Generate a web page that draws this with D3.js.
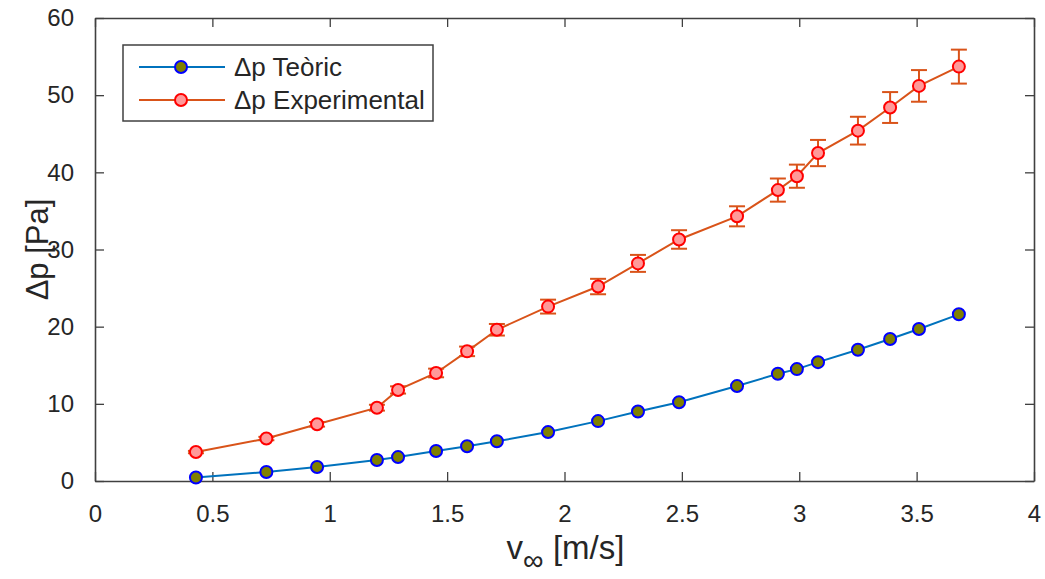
<!DOCTYPE html>
<html>
<head>
<meta charset="utf-8">
<script src="https://cdn.jsdelivr.net/npm/d3@7"></script>
<style>
  body { margin: 0; background: #fff; }
  text { font-family: "Liberation Sans", Arial, sans-serif; fill: #262626; }
</style>
</head>
<body>
<svg id="chart" width="1045" height="579"></svg>
<script>
// wind speed [m/s]
var velocity = [0.43, 0.73, 0.946, 1.201, 1.291, 1.453, 1.585, 1.712, 1.93, 2.143,
                2.313, 2.488, 2.735, 2.909, 2.99, 3.08, 3.25, 3.387, 3.51, 3.68];
// pressure drop [Pa]
var dpTeoric = [0.45, 1.16, 1.81, 2.72, 3.1, 3.88, 4.5, 5.15, 6.34, 7.76,
                9.0, 10.2, 12.3, 13.9, 14.5, 15.4, 17.0, 18.4, 19.7, 21.6];
var dpExperimental = [3.75, 5.5, 7.35, 9.5, 11.8, 14.0, 16.8, 19.6, 22.6, 25.2,
                      28.2, 31.3, 34.3, 37.7, 39.5, 42.5, 45.4, 48.4, 51.2, 53.7];
var dpError = [0.15, 0.22, 0.3, 0.38, 0.47, 0.56, 0.62, 0.75, 0.9, 1.0,
               1.1, 1.2, 1.3, 1.5, 1.5, 1.7, 1.8, 2.0, 2.05, 2.2];
var xTicks = [0, 0.5, 1, 1.5, 2, 2.5, 3, 3.5, 4];
var yTicks = [0, 10, 20, 30, 40, 50, 60];
var legendLabels = ["\u0394p Te\u00f2ric", "\u0394p Experimental"];

var svg = d3.select("#chart"),
    box = {left: 95, right: 1034, top: 18, bottom: 481},
    cs = {
        teo: {line: "#0072BD", fill: "#808000", stroke: "#0000FF"},
        exp: {line: "#D95319", fill: "#FF9999", stroke: "#FF0000"},
        axis: "#404040"
    };

var x = d3.scaleLinear().domain([0, 4]).range([box.left, box.right]);
var y = d3.scaleLinear().domain([0, 60]).range([box.bottom, box.top]);

var teoData = velocity.map((v, i) => ({v: v, p: dpTeoric[i]}));
var expData = velocity.map((v, i) => ({v: v, p: dpExperimental[i], e: dpError[i]}));

// axes with inward ticks, box on
var axB = svg.append("g").attr("transform", "translate(0," + box.bottom + ")")
    .call(d3.axisBottom(x).tickValues(xTicks).tickSizeInner(-9).tickSizeOuter(0).tickPadding(24)
        .tickFormat(d3.format("")));
var axT = svg.append("g").attr("transform", "translate(0," + box.top + ")")
    .call(d3.axisTop(x).tickValues(xTicks).tickSizeInner(-9).tickSizeOuter(0).tickFormat(""));
var axL = svg.append("g").attr("transform", "translate(" + box.left + ",0)")
    .call(d3.axisLeft(y).tickValues(yTicks).tickSizeInner(-9).tickSizeOuter(0).tickPadding(21));
var axR = svg.append("g").attr("transform", "translate(" + box.right + ",0)")
    .call(d3.axisRight(y).tickValues(yTicks).tickSizeInner(-9).tickSizeOuter(0).tickFormat(""));

[axB, axT, axL, axR].forEach(g => {
    g.attr("font-size", 24);
    g.select(".domain").attr("stroke", cs.axis).attr("stroke-width", 1.6);
    g.selectAll(".tick line").attr("stroke", cs.axis).attr("stroke-width", 1.3);
    g.selectAll(".tick text").attr("font-size", 24).attr("fill", "#262626")
        .style("font-family", "'Liberation Sans', Arial, sans-serif");
});
axB.selectAll(".tick text").attr("dy", "0.71em");

// axis labels
svg.append("text")
    .attr("transform", "translate(37," + ((box.top + box.bottom) / 2) + ") rotate(-90)")
    .attr("text-anchor", "middle").attr("dy", "0.35em")
    .attr("font-size", 31).text("\u0394p [Pa]");

var xl = svg.append("text")
    .attr("x", (box.left + box.right) / 2 + 1).attr("y", 559)
    .attr("text-anchor", "middle").attr("font-size", 33);
xl.append("tspan").text("v");
xl.append("tspan").attr("dy", 11).attr("font-size", 29).text("\u221e");
xl.append("tspan").attr("dy", -11).text(" [m/s]");

// lines
var line = d3.line().x(d => x(d.v)).y(d => y(d.p));

svg.append("path").datum(teoData)
    .attr("d", line).attr("fill", "none")
    .attr("stroke", cs.teo.line).attr("stroke-width", 2);

svg.append("path").datum(expData)
    .attr("d", line).attr("fill", "none")
    .attr("stroke", cs.exp.line).attr("stroke-width", 2);

// error bars
var eb = svg.append("g").attr("stroke", cs.exp.line).attr("stroke-width", 2);
eb.selectAll("line.v").data(expData).enter().append("line")
    .attr("x1", d => x(d.v)).attr("x2", d => x(d.v))
    .attr("y1", d => y(d.p - d.e)).attr("y2", d => y(d.p + d.e));
eb.selectAll("line.top").data(expData).enter().append("line")
    .attr("x1", d => x(d.v) - 8).attr("x2", d => x(d.v) + 8)
    .attr("y1", d => y(d.p + d.e)).attr("y2", d => y(d.p + d.e));
eb.selectAll("line.bot").data(expData).enter().append("line")
    .attr("x1", d => x(d.v) - 8).attr("x2", d => x(d.v) + 8)
    .attr("y1", d => y(d.p - d.e)).attr("y2", d => y(d.p - d.e));

// markers
svg.append("g").selectAll("circle").data(teoData).enter().append("circle")
    .attr("cx", d => x(d.v)).attr("cy", d => y(d.p)).attr("r", 6)
    .attr("fill", cs.teo.fill).attr("stroke", cs.teo.stroke).attr("stroke-width", 2);

svg.append("g").selectAll("circle").data(expData).enter().append("circle")
    .attr("cx", d => x(d.v)).attr("cy", d => y(d.p)).attr("r", 6)
    .attr("fill", cs.exp.fill).attr("stroke", cs.exp.stroke).attr("stroke-width", 2);

// legend
var lg = svg.append("g");
lg.append("rect").attr("x", 123).attr("y", 45).attr("width", 310).attr("height", 76)
    .attr("fill", "#fff").attr("stroke", cs.axis).attr("stroke-width", 1.5);
[cs.teo, cs.exp].forEach((s, i) => {
    var yy = 67 + i * 33;
    lg.append("line").attr("x1", 139).attr("x2", 225).attr("y1", yy).attr("y2", yy)
        .attr("stroke", s.line).attr("stroke-width", 2);
    lg.append("circle").attr("cx", 181).attr("cy", yy).attr("r", 6)
        .attr("fill", s.fill).attr("stroke", s.stroke).attr("stroke-width", 2);
    lg.append("text").attr("x", 234).attr("y", yy).attr("dy", "0.36em")
        .attr("font-size", 26).text(legendLabels[i]);
});
</script>
</body>
</html>
